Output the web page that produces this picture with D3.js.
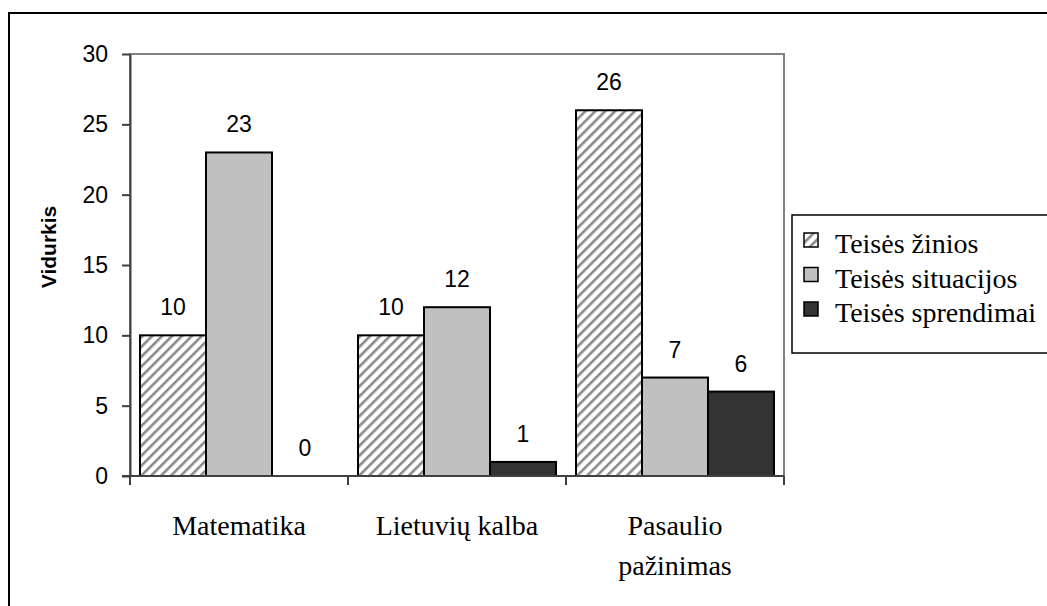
<!DOCTYPE html>
<html>
<head>
<meta charset="utf-8">
<script src="https://cdn.jsdelivr.net/npm/d3@7"></script>
<style>
  body { margin: 0; background: #fff; }
  svg { display: block; }
  .sans { font-family: "Liberation Sans", Arial, sans-serif; }
  .serif { font-family: "Liberation Serif", "Times New Roman", "DejaVu Serif", serif; }
</style>
</head>
<body>
<svg id="chart" width="1047" height="606"></svg>
<script>
const categories = [["Matematika"], ["Lietuvių kalba"], ["Pasaulio", "pažinimas"]];
const seriesNames = ["Teisės žinios", "Teisės situacijos", "Teisės sprendimai"];
const zinios = [10, 10, 26];
const situacijos = [23, 12, 7];
const sprendimai = [0, 1, 6];
const yTicks = [0, 5, 10, 15, 20, 25, 30];

const seriesValues = [zinios, situacijos, sprendimai];
const catKeys = categories.map(c => c.join(" "));

const svg = d3.select("#chart");
const plot = { left: 130, right: 784, top: 54, bottom: 476 };

// outer frame (cropped on right/bottom)
svg.append("rect")
  .attr("x", 9).attr("y", 13)
  .attr("width", 1100).attr("height", 700)
  .attr("fill", "none").attr("stroke", "#000").attr("stroke-width", 2);

const defs = svg.append("defs");
const hatch = defs.append("pattern")
  .attr("id", "hatch")
  .attr("patternUnits", "userSpaceOnUse")
  .attr("width", 7).attr("height", 7)
  .attr("patternTransform", "rotate(45)");
hatch.append("rect").attr("width", 7).attr("height", 7).attr("fill", "#fff");
hatch.append("rect").attr("x", 0).attr("width", 2.6).attr("height", 7).attr("fill", "#8a8a8a");

const fills = ["url(#hatch)", "#c0c0c0", "#333333"];

const x0 = d3.scaleBand()
  .domain(catKeys)
  .range([plot.left, plot.right]);

const x1 = d3.scaleBand()
  .domain(d3.range(seriesNames.length))
  .range([10, x0.bandwidth() - 10]);

const y = d3.scaleLinear()
  .domain([0, 30])
  .range([plot.bottom, plot.top]);

// plot area border
svg.append("rect")
  .attr("x", plot.left).attr("y", plot.top)
  .attr("width", plot.right - plot.left).attr("height", plot.bottom - plot.top)
  .attr("fill", "none").attr("stroke", "#808080").attr("stroke-width", 2);

// bars
const groups = svg.append("g")
  .selectAll("g")
  .data(catKeys)
  .join("g")
  .attr("transform", d => `translate(${x0(d)},0)`);

groups.selectAll("rect")
  .data((d, i) => seriesValues.map((vals, s) => ({ s, v: vals[i] })))
  .join("rect")
  .filter(d => d.v > 0)
  .attr("x", d => x1(d.s))
  .attr("y", d => y(d.v))
  .attr("width", x1.bandwidth())
  .attr("height", d => y(0) - y(d.v))
  .attr("fill", d => fills[d.s])
  .attr("stroke", "#000")
  .attr("stroke-width", 2);

groups.selectAll("text")
  .data((d, i) => seriesValues.map((vals, s) => ({ s, v: vals[i] })))
  .join("text")
  .attr("class", "sans")
  .attr("x", d => x1(d.s) + x1.bandwidth() / 2)
  .attr("y", d => y(d.v) - 20)
  .attr("text-anchor", "middle")
  .attr("font-size", 23)
  .text(d => d.v);

// y axis
const yAxis = svg.append("g")
  .attr("transform", `translate(${plot.left},0)`)
  .call(d3.axisLeft(y).tickValues(yTicks).tickSize(8).tickSizeOuter(0).tickPadding(14));
yAxis.selectAll("path, line").attr("stroke", "#404040").attr("stroke-width", 2);
yAxis.selectAll("text")
  .attr("class", "sans")
  .attr("font-family", null)
  .attr("font-size", 23).attr("fill", "#000");

// x axis
const xAxis = svg.append("g");
xAxis.append("line")
  .attr("x1", plot.left - 8).attr("x2", plot.right)
  .attr("y1", y(0)).attr("y2", y(0))
  .attr("stroke", "#404040").attr("stroke-width", 2);
xAxis.selectAll("line.tick")
  .data(catKeys.map(k => x0(k)).concat([x0(catKeys[catKeys.length - 1]) + x0.bandwidth()]))
  .join("line")
  .attr("class", "tick")
  .attr("x1", d => d).attr("x2", d => d)
  .attr("y1", y(0)).attr("y2", y(0) + 9)
  .attr("stroke", "#404040").attr("stroke-width", 2);

const catLabels = xAxis.selectAll("text")
  .data(categories)
  .join("text")
  .attr("class", "serif")
  .attr("x", (d, i) => x0(catKeys[i]) + x0.bandwidth() / 2)
  .attr("y", 535)
  .attr("text-anchor", "middle")
  .attr("font-size", 28);
catLabels.selectAll("tspan")
  .data(d => d)
  .join("tspan")
  .attr("x", function () { return d3.select(this.parentNode).attr("x"); })
  .attr("dy", (d, i) => i === 0 ? 0 : 40)
  .text(d => d);

// y title
svg.append("text")
  .attr("class", "sans")
  .attr("transform", "translate(56,247) rotate(-90)")
  .attr("text-anchor", "middle")
  .attr("font-weight", "bold")
  .attr("font-size", 21)
  .text("Vidurkis");

// legend
const legend = svg.append("g").attr("transform", "translate(792,215)");
legend.append("rect")
  .attr("width", 300).attr("height", 138)
  .attr("fill", "#fff").attr("stroke", "#000").attr("stroke-width", 1.5);
const items = legend.selectAll("g.item")
  .data(seriesNames)
  .join("g")
  .attr("class", "item")
  .attr("transform", (d, i) => `translate(0,${38 + i * 34.5})`);
items.append("rect")
  .attr("x", 12).attr("y", -20)
  .attr("width", 14).attr("height", 14)
  .attr("fill", (d, i) => fills[i])
  .attr("stroke", "#000").attr("stroke-width", 1.5);
items.append("text")
  .attr("class", "serif")
  .attr("x", 43).attr("y", 0)
  .attr("font-size", 28)
  .text(d => d);
</script>
</body>
</html>
